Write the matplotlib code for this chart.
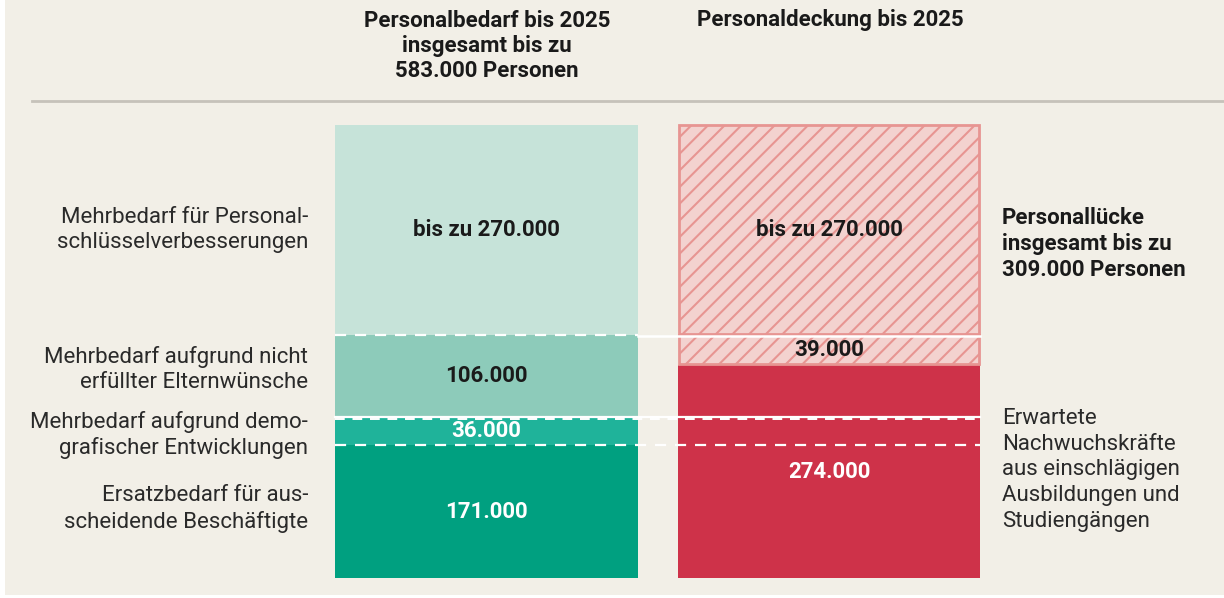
import matplotlib
matplotlib.use("Agg")
import matplotlib.pyplot as plt
from matplotlib.patches import Rectangle

# Personalbedarf (links) und Personaldeckung (rechts), von unten nach oben
bedarf_labels = ["Ersatzbedarf für aus-\nscheidende Beschäftigte",
                 "Mehrbedarf aufgrund demo-\ngrafischer Entwicklungen",
                 "Mehrbedarf aufgrund nicht\nerfüllter Elternwünsche",
                 "Mehrbedarf für Personal-\nschlüsselverbesserungen"]
bedarf_values = [171000, 36000, 106000, 270000]
bedarf_texts = ["171.000", "36.000", "106.000", "bis zu 270.000"]
bedarf_colors = ["#00A080", "#1FB39A", "#8DCBBA", "#C6E3D9"]
bedarf_text_colors = ["white", "white", "#1a1a1a", "#1a1a1a"]

deckung_values = [274000, 39000, 270000]
deckung_texts = ["274.000", "39.000", "bis zu 270.000"]
deckung_hatched = [False, True, True]

header_left = "Personalbedarf bis 2025\ninsgesamt bis zu\n583.000 Personen"
header_right = "Personaldeckung bis 2025"
luecke_text = "Personallücke\ninsgesamt bis zu\n309.000 Personen"
nachwuchs_text = "Erwartete\nNachwuchskräfte\naus einschlägigen\nAusbildungen und\nStudiengängen"

BG = "#F2EFE7"
RED = "#CE3249"
PINK_FILL = "#F3D2CF"
PINK_LINE = "#E79592"

plt.rcParams["font.family"] = ["Roboto", "DejaVu Sans"]
plt.rcParams["hatch.linewidth"] = 1.5

W, H = 1224, 598
fig = plt.figure(figsize=(W / 100, H / 100), dpi=100, facecolor="white")
ax = fig.add_axes([0, 0, 1, 1])
ax.set_axis_off()

# y axis in persons: bar bottom at pixel row 578, total 583.000 at row 125
total = sum(bedarf_values)
scale = total / (578 - 125)


def py(row):
    return (578 - row) * scale


ax.set_xlim(0, W)
ax.set_ylim(py(H), py(0))

# background panel with thin white margin
ax.add_patch(Rectangle((5, py(595)), W - 5, py(0) - py(595), facecolor=BG,
                       edgecolor="none", zorder=0))

left_x, left_w = 335, 303
right_x, right_w = 678, 302
FS = 16

bottom = 0
for val, txt, col, tcol in zip(bedarf_values, bedarf_texts, bedarf_colors,
                               bedarf_text_colors):
    ax.bar(left_x, val, width=left_w, bottom=bottom, align="edge",
           color=col, edgecolor="none", zorder=2)
    ax.text(left_x + left_w / 2, bottom + val / 2, txt, ha="center",
            va="center", fontsize=FS, fontweight="bold", color=tcol, zorder=5)
    bottom += val

bottom = 0
for val, txt, hatched in zip(deckung_values, deckung_texts, deckung_hatched):
    if hatched:
        ax.bar(right_x + 1, val - 1500, width=right_w - 2, bottom=bottom + 1500,
               align="edge", color=PINK_FILL, edgecolor=PINK_LINE,
               hatch="//", linewidth=2, zorder=2)
        tcol = "#1a1a1a"
    else:
        ax.bar(right_x, val, width=right_w, bottom=bottom, align="edge",
               color=RED, edgecolor="none", zorder=2)
        tcol = "white"
    ax.text(right_x + right_w / 2, bottom + val / 2, txt, ha="center",
            va="center", fontsize=FS, fontweight="bold", color=tcol, zorder=5)
    bottom += val

# separators between the segments
b1 = bedarf_values[0]
b2 = b1 + bedarf_values[1]
b3 = b2 + bedarf_values[2]
x_end = right_x + right_w
ax.plot([left_x, x_end], [b1, b1], color="white", lw=1.6, ls=(0, (5, 4)), zorder=4)
ax.plot([left_x, x_end], [b2, b2], color="white", lw=1.6, zorder=4)
ax.plot([left_x, x_end], [b2 - 2500, b2 - 2500], color="white", lw=1.4,
        ls=(0, (5, 4)), zorder=4)
ax.plot([left_x, left_x + left_w], [b3, b3], color="white", lw=1.6,
        ls=(0, (5, 4)), zorder=4)
ax.plot([left_x + left_w, x_end], [b3 - 1500, b3 - 1500], color="white",
        lw=1.8, zorder=4)

# headers and rule
ax.text(487, py(46), header_left, ha="center", va="center", fontsize=FS,
        fontweight="bold", color="#1a1a1a", linespacing=1.2)
ax.text(830, py(20), header_right, ha="center", va="center", fontsize=FS,
        fontweight="bold", color="#1a1a1a")
ax.plot([32, W], [py(101), py(101)], color="#C6C2BA", lw=2, zorder=1)

# category labels left of the bars
label_rows = [509, 435, 370, 230]
for lab, row in zip(bedarf_labels, label_rows):
    ax.text(308, py(row), lab, ha="right", va="center", fontsize=FS,
            color="#2a2a2a", linespacing=1.25)

ax.text(1002, py(244), luecke_text, ha="left", va="center", fontsize=FS,
        fontweight="bold", color="#1a1a1a", linespacing=1.22)
ax.text(1002, py(470), nachwuchs_text, ha="left", va="center", fontsize=FS,
        color="#2a2a2a", linespacing=1.3)

fig.savefig("out.png", dpi=100, facecolor="white")
